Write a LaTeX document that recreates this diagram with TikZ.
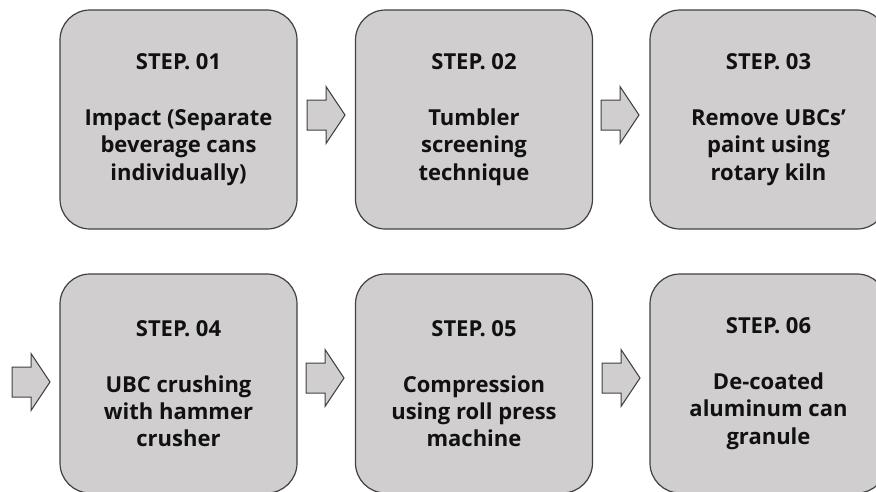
\documentclass[tikz,border=0pt]{standalone}
\usepackage{fontspec}
\setmainfont{Open Sans}
\definecolor{boxfill}{HTML}{D0CECE}
\definecolor{boxline}{HTML}{404040}
\definecolor{steptext}{HTML}{111111}
\tikzset{
  stepbox/.style={draw=boxline, line width=1.2pt, fill=boxfill,
    rounded corners=30pt, minimum width=237pt, minimum height=219pt,
    align=center, text=steptext, inner sep=0pt,
    font=\bfseries\fontsize{22}{27.2}\selectfont},
  blockarrow/.pic={
    \draw[draw=boxline, line width=1pt, fill=boxfill, line join=miter]
      (0,-15) -- (19,-15) -- (19,-28.5) -- (38,0) -- (19,28.5) -- (19,15) -- (0,15) -- cycle;
  }
}
\begin{document}
\begin{tikzpicture}[x=1pt,y=-1pt]
  \clip (0,0) rectangle (876,491);
  \fill[white] (0,0) rectangle (876,491);

  % first row
  \node[stepbox] (s1) at (178.5,119.5) {STEP. 01\\[29pt]Impact (Separate\\beverage cans\\individually)};
  \node[stepbox] (s2) at (474,119.5)   {STEP. 02\\[29pt]Tumbler\\screening\\technique};
  \node[stepbox] (s3) at (768.5,119.5) {STEP. 03\\[29pt]Remove UBCs’\\paint using\\rotary kiln};

  % second row
  \node[stepbox] (s4) at (178.5,383.5) {STEP. 04\\[29pt]UBC crushing\\with hammer\\crusher};
  \node[stepbox] (s5) at (474,383.5)   {STEP. 05\\[29pt]Compression\\using roll press\\machine};
  \node[stepbox] (s6) at (768.5,383.5) {STEP. 06\\[29pt]De-coated\\aluminum can\\granule};

  % block arrows between the steps
  \pic at (307,115) {blockarrow};
  \pic at (601,115) {blockarrow};
  \pic at (12,382)  {blockarrow};
  \pic at (306,378) {blockarrow};
  \pic at (602,378) {blockarrow};
\end{tikzpicture}
\end{document}
